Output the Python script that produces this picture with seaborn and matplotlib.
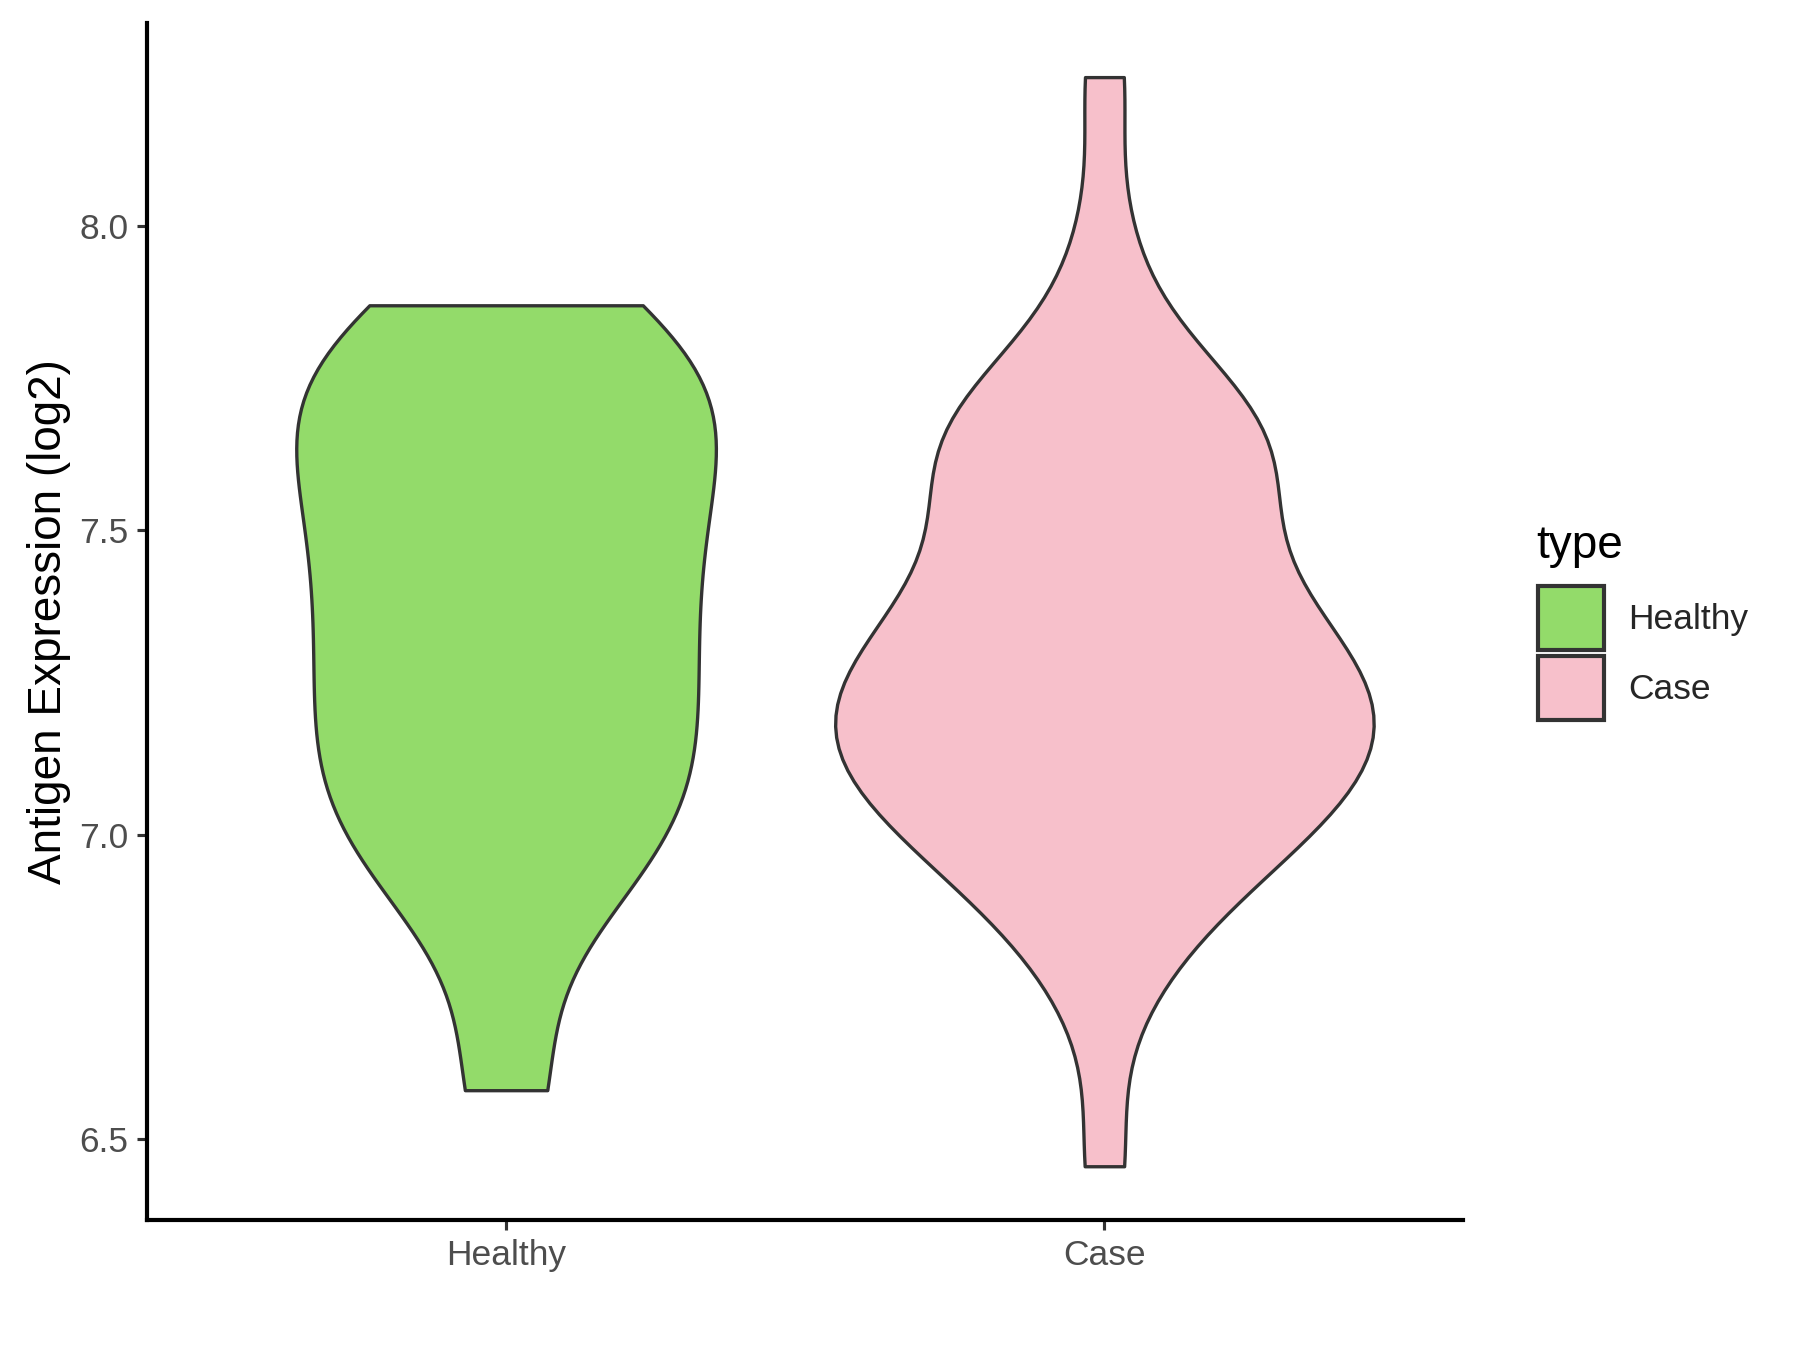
import numpy as np
import pandas as pd
import seaborn as sns
import matplotlib.pyplot as plt
from matplotlib.patches import Patch

# %%
# sample values read off the violin shapes
healthy_vals = [6.58, 6.89, 6.97, 7.04, 7.10, 7.17, 7.24, 7.31, 7.38, 7.45,
                7.52, 7.59, 7.65, 7.71, 7.76, 7.81, 7.87]
case_vals = [6.455,
             6.726, 6.829, 6.885, 6.926, 6.959, 6.987, 7.013, 7.036, 7.058,
             7.078, 7.098, 7.117, 7.135, 7.153, 7.171, 7.189, 7.207, 7.225,
             7.243, 7.262, 7.282, 7.302, 7.324, 7.347, 7.373, 7.401, 7.434,
             7.475, 7.531, 7.634,
             7.532, 7.590, 7.626, 7.656, 7.684, 7.714, 7.750, 7.808,
             7.970, 8.245]
groups = ["Healthy", "Case"]
colors = ["#93DB6A", "#F7C0CB"]

df = pd.DataFrame({
    "type": ["Healthy"] * len(healthy_vals) + ["Case"] * len(case_vals),
    "value": healthy_vals + case_vals,
})

# %%
sns.set_style("white")
plt.rcParams["font.family"] = ["Liberation Sans", "DejaVu Sans"]

fig = plt.figure(figsize=(12, 9), dpi=150)
ax = fig.add_axes([0.0817, 0.096, 0.7313, 0.887])

sns.violinplot(data=df, x="type", y="value", hue="type", order=groups,
               hue_order=groups, palette=colors, saturation=1, cut=0,
               inner=None, width=0.9, bw_method="scott", bw_adjust=0.74,
               density_norm="area", common_norm=True, linewidth=1.6,
               linecolor="#333333", legend=False, ax=ax)

ax.set_xlim(-0.6, 1.6)
ax.set_ylim(6.366, 8.334)
ax.set_yticks([6.5, 7.0, 7.5, 8.0])
ax.set_xlabel("")
ax.set_ylabel("Antigen Expression (log2)", fontsize=22, color="black")
ax.tick_params(axis="both", direction="out", length=5, width=1.5,
               color="#333333", labelsize=17, labelcolor="#4D4D4D",
               bottom=True, left=True, pad=4)
for side in ["top", "right"]:
    ax.spines[side].set_visible(False)
for side in ["left", "bottom"]:
    ax.spines[side].set_color("black")
    ax.spines[side].set_linewidth(2)

# legend
fig.text(0.8533, 0.587, "type", fontsize=22, color="black", ha="left",
         va="baseline")
handles = [Patch(facecolor=c, edgecolor="#333333", linewidth=2) for c in colors]
fig.legend(handles, groups, loc="upper left", bbox_to_anchor=(0.8546, 0.566),
           frameon=False, fontsize=17, handlelength=1.85, handleheight=2.42,
           labelspacing=0.16, handletextpad=0.7, borderpad=0,
           borderaxespad=0)

fig.savefig("out.png", dpi=150)
